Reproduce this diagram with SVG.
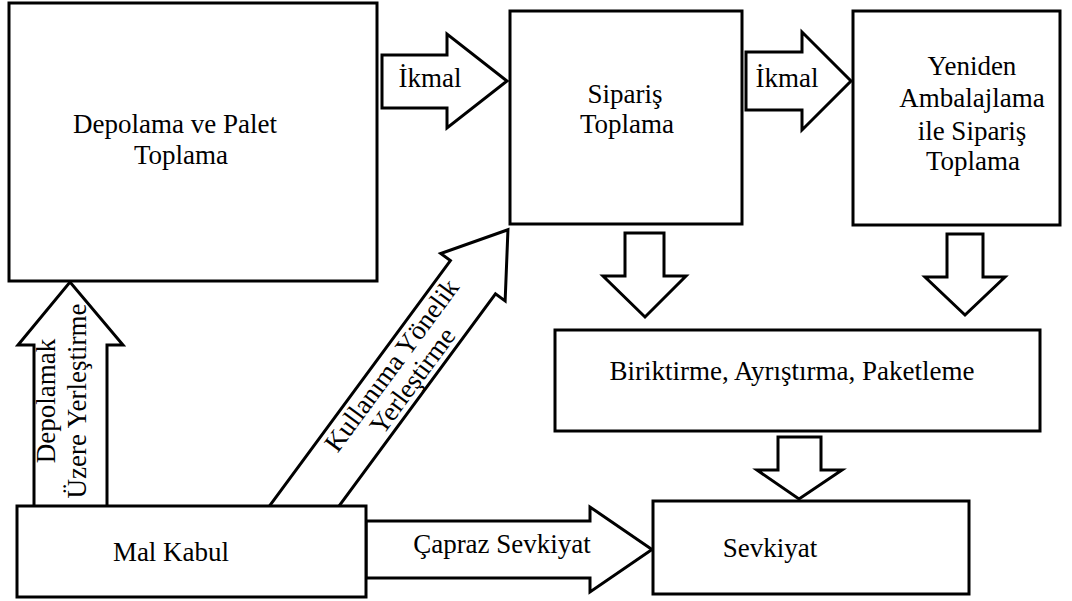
<svg xmlns="http://www.w3.org/2000/svg" width="1072" height="601" viewBox="0 0 1072 601" font-family="'Liberation Serif', 'Times New Roman', serif">
  <style>
    .box { fill: #fff; stroke: #000; stroke-width: 3; }
    .arrow { fill: #fff; stroke: #000; stroke-width: 3; stroke-linejoin: miter; }
    .lbl { font-family: 'Liberation Serif', 'Times New Roman', serif; font-size: 27px; fill: #000; text-anchor: middle; }
  </style>
  <rect width="1072" height="601" fill="#fff"/>

  <!-- block arrows between the stages -->
  <g id="connectors">
    <!-- storage placement (vertical) -->
    <g id="arrow-storage">
      <polygon class="arrow" points="34,512 34,345 18,345 70,282 123,345 107,345 107,512"/>
      <text class="lbl" transform="translate(55,401) rotate(-90)">Depolamak</text>
      <text class="lbl" transform="translate(86,401) rotate(-90)">Üzere Yerleştirme</text>
    </g>
    <!-- usage-oriented placement (diagonal) -->
    <g id="arrow-usage">
      <polygon class="arrow" transform="translate(305,505) rotate(-53.6)" points="-60,-28 283,-28 283,-40 342,0 283,40 283,28 -60,28"/>
      <text class="lbl" transform="translate(402,373) rotate(-53.6)"><tspan x="0" y="-4">Kullanıma Yönelik</tspan><tspan x="0" y="22">Yerleştirme</tspan></text>
    </g>
    <!-- replenishment arrows -->
    <g id="arrow-replenish-1">
      <polygon class="arrow" points="382,55 447,55 447,34 507,81 447,128 447,108 382,108"/>
      <text class="lbl" x="430" y="87">İkmal</text>
    </g>
    <g id="arrow-replenish-2">
      <polygon class="arrow" points="746,52 802,52 802,32 851,81 802,130 802,110 746,110"/>
      <text class="lbl" x="787" y="87">İkmal</text>
    </g>
    <!-- down arrows into accumulation / shipping -->
    <polygon id="arrow-down-1" class="arrow" points="625,233 664,233 664,276 686,276 645,317 603,276 625,276"/>
    <polygon id="arrow-down-2" class="arrow" points="947,234 983,234 983,277 1005,277 965,315 925,277 947,277"/>
    <polygon id="arrow-down-3" class="arrow" points="778,437 821,437 821,470 842,470 799,499 757,470 778,470"/>
    <!-- cross docking -->
    <g id="arrow-crossdock">
      <polygon class="arrow" points="366,521 590,521 590,507 652,549.5 590,592 590,578 366,578"/>
      <text class="lbl" x="502" y="553">Çapraz Sevkiyat</text>
    </g>
  </g>

  <!-- process stages -->
  <g id="node-storage">
    <rect class="box" x="9" y="3" width="368" height="278"/>
    <text class="lbl" x="175" y="133">Depolama ve Palet</text>
    <text class="lbl" x="181" y="164">Toplama</text>
  </g>
  <g id="node-order-picking">
    <rect class="box" x="510" y="11" width="232" height="213"/>
    <text class="lbl" x="625" y="103">Sipariş</text>
    <text class="lbl" x="627" y="133">Toplama</text>
  </g>
  <g id="node-repack-picking">
    <rect class="box" x="853" y="11" width="207" height="214"/>
    <text class="lbl" x="972" y="75">Yeniden</text>
    <text class="lbl" x="972" y="107">Ambalajlama</text>
    <text class="lbl" x="972" y="140">ile Sipariş</text>
    <text class="lbl" x="973" y="170">Toplama</text>
  </g>
  <g id="node-accumulate">
    <rect class="box" x="555" y="330" width="485" height="101"/>
    <text class="lbl" x="792" y="380">Biriktirme, Ayrıştırma, Paketleme</text>
  </g>
  <g id="node-shipping">
    <rect class="box" x="653" y="501" width="316" height="93"/>
    <text class="lbl" x="770" y="557">Sevkiyat</text>
  </g>
  <g id="node-receiving">
    <rect class="box" x="17" y="506" width="349" height="91"/>
    <text class="lbl" x="171" y="561">Mal Kabul</text>
  </g>
</svg>
